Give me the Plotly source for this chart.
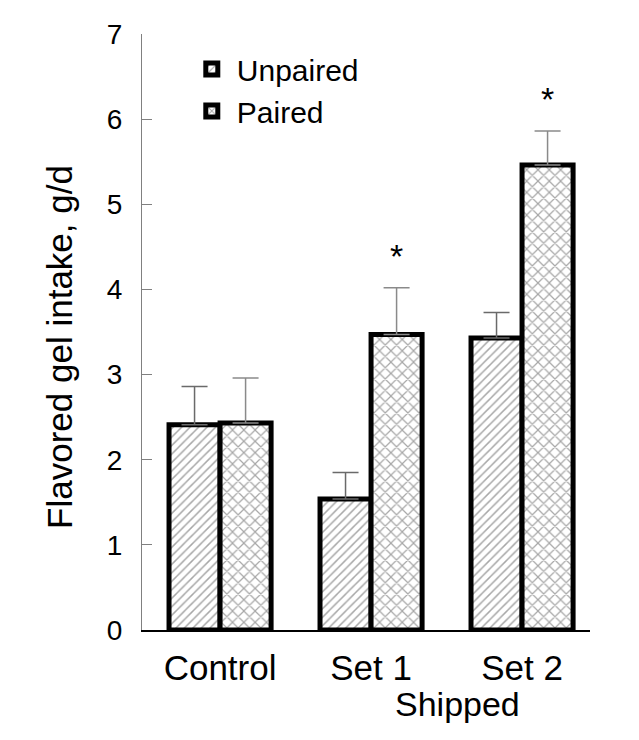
import plotly.graph_objects as go

# ---- data ----
categories = ["Control", "Set 1", "Set 2"]
unpaired = [2.41, 1.54, 3.43]
unpaired_err = [0.45, 0.31, 0.30]
paired = [2.43, 3.47, 5.46]
paired_err = [0.53, 0.55, 0.40]
significant = [False, True, True]   # asterisk over paired bar
y_ticks = [0, 1, 2, 3, 4, 5, 6, 7]

FONT = "Liberation Sans, Arial, sans-serif"

fig = go.Figure()
fig.add_trace(go.Bar(
    name="Unpaired", x=categories, y=unpaired,
    marker=dict(color="white", line=dict(color="black", width=5),
                pattern=dict(shape="/", fgcolor="#505050", bgcolor="white",
                             size=6, solidity=0.25)),
    error_y=dict(type="data", array=unpaired_err, arrayminus=[0] * 3,
                 symmetric=False, color="#6a6a6a", thickness=1.5, width=13),
))
fig.add_trace(go.Bar(
    name="Paired", x=categories, y=paired,
    marker=dict(color="white", line=dict(color="black", width=5),
                pattern=dict(shape="x", fgcolor="#505050", bgcolor="white",
                             size=8, solidity=0.28)),
    error_y=dict(type="data", array=paired_err, arrayminus=[0] * 3,
                 symmetric=False, color="#8a8a8a", thickness=1.5, width=13),
))

# asterisks
for cat, v, e, s in zip(categories, paired, paired_err, significant):
    if s:
        fig.add_annotation(x=cat, y=v + e, text="*", showarrow=False,
                           xshift=25, yanchor="middle", yshift=32,
                           font=dict(family=FONT, size=34, color="black"))

# group label "Shipped"
fig.add_annotation(x=1.57, y=0, xref="x", yref="y", text="Shipped",
                   showarrow=False, yanchor="middle", yshift=-74,
                   font=dict(family=FONT, size=34, color="black"))

# y title
fig.add_annotation(x=-0.183, xref="paper", y=0.475, yref="paper",
                   text="Flavored gel intake, g/d", textangle=-90,
                   showarrow=False, xanchor="center", yanchor="middle",
                   font=dict(family=FONT, size=35, color="black"))

fig.update_layout(
    width=631, height=724,
    margin=dict(l=134, r=49, t=26, b=102),
    paper_bgcolor="white", plot_bgcolor="white",
    barmode="group", bargap=0.324, bargroupgap=0,
    font=dict(family=FONT, color="black"),
    showlegend=True,
    legend=dict(x=0.1, y=0.985, xanchor="left", yanchor="top",
                font=dict(family=FONT, size=30, color="black"),
                bgcolor="rgba(0,0,0,0)", tracegroupgap=0, itemwidth=40),
    xaxis=dict(type="category", range=[-0.517, 2.45],
               showline=True, linecolor="black", linewidth=1.5,
               ticks="", showgrid=False, zeroline=False,
               tickfont=dict(family=FONT, size=35, color="black"),
               ticklabelstandoff=6),
    yaxis=dict(range=[0, 7], tickvals=y_ticks, ticks="inside", ticklen=10,
               tickcolor="#808080", tickwidth=1,
               showline=True, linecolor="#808080", linewidth=1.2,
               showgrid=False, zeroline=False,
               tickfont=dict(family=FONT, size=28, color="black"),
               ticklabelstandoff=13),
)

fig.write_html("out.html")
